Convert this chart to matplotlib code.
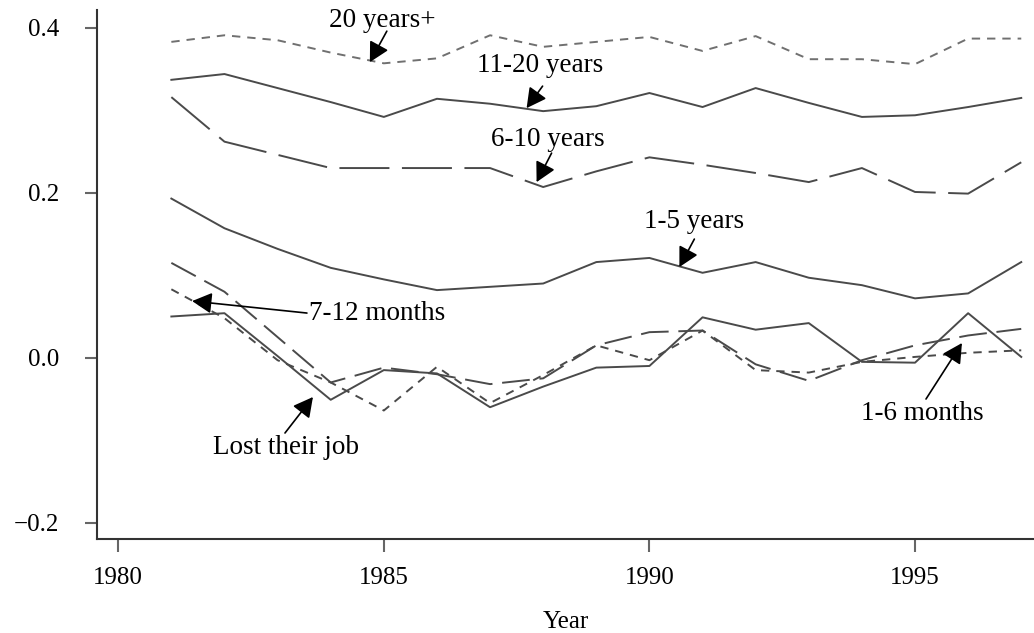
import matplotlib
matplotlib.use("Agg")
from matplotlib import pyplot as plt

# data
years = list(range(1981, 1998))

yrs_20plus = [0.383, 0.391, 0.385, 0.370, 0.357, 0.363, 0.391, 0.377, 0.383,
              0.389, 0.372, 0.390, 0.362, 0.362, 0.356, 0.387, 0.387]
yrs_11_20 = [0.337, 0.344, 0.327, 0.310, 0.292, 0.314, 0.308, 0.299, 0.305,
             0.321, 0.304, 0.327, 0.309, 0.292, 0.294, 0.304, 0.315]
yrs_6_10 = [0.316, 0.262, 0.246, 0.230, 0.230, 0.230, 0.230, 0.207, 0.226,
            0.243, 0.234, 0.224, 0.213, 0.230, 0.201, 0.199, 0.237]
yrs_1_5 = [0.193, 0.157, 0.132, 0.109, 0.095, 0.082, 0.086, 0.090, 0.116,
           0.121, 0.103, 0.116, 0.097, 0.088, 0.072, 0.078, 0.116]
mon_7_12 = [0.083, 0.048, -0.003, -0.030, -0.064, -0.011, -0.055, -0.021, 0.015,
            -0.003, 0.033, -0.015, -0.018, -0.005, 0.001, 0.006, 0.009]
mon_1_6 = [0.115, 0.080, 0.025, -0.030, -0.012, -0.020, -0.032, -0.025, 0.015,
           0.031, 0.033, -0.008, -0.028, -0.003, 0.015, 0.027, 0.035]
lost_job = [0.050, 0.054, 0.002, -0.051, -0.015, -0.019, -0.060, -0.035, -0.012,
            -0.010, 0.049, 0.034, 0.042, -0.005, -0.006, 0.054, 0.001]

plt.rcParams['font.family'] = ['Liberation Serif', 'DejaVu Serif']
plt.rcParams['lines.scale_dashes'] = False

fig = plt.figure(figsize=(10.34, 6.33), dpi=100)
ax = fig.add_axes([0.0938, 0.1485, 0.9062, 0.8355])

line_col = '#4a4a4a'
ax.plot(years, yrs_20plus, color='#707070', lw=1.4, dashes=(6, 5))
ax.plot(years, yrs_11_20, color=line_col, lw=1.4)
ax.plot(years, yrs_6_10, color=line_col, lw=1.4, dashes=(36, 9))
ax.plot(years, yrs_1_5, color=line_col, lw=1.4)
ax.plot(years, mon_7_12, color=line_col, lw=1.4, dashes=(6, 5))
ax.plot(years, mon_1_6, color=line_col, lw=1.4, dashes=(20, 7))
ax.plot(years, lost_job, color=line_col, lw=1.4)

ax.set_xlim(1979.6, 1997.24)
ax.set_ylim(-0.2198, 0.4215)
ax.set_xticks([1980, 1985, 1990, 1995])
ax.set_yticks([-0.2, 0.0, 0.2, 0.4])
ax.set_yticklabels(['\u22120.2', '0.0', '0.2', '0.4'])
ax.set_xlabel('Year', fontsize=18, labelpad=16)

for side in ['top', 'right']:
    ax.spines[side].set_visible(False)
for side in ['left', 'bottom']:
    ax.spines[side].set_color('#333333')
    ax.spines[side].set_linewidth(1.5)
ax.tick_params(axis='both', length=9, width=1.5, color='#666666', labelsize=18)
ax.tick_params(axis='x', pad=11)
ax.tick_params(axis='y', pad=18)

# labels with arrows
def px(x):
    return 1980 + (x - 118) / 53.2

def py(y):
    return (357.7 - y) / 825

notes = [
    ('20 years+', (382, 20), (387, 31), (370, 62)),
    ('11-20 years', (541, 65), (543, 86), (527, 108)),
    ('6-10 years', (548, 139), (552, 153), (537, 182)),
    ('1-5 years', (695, 221), (695, 239), (680, 267)),
    ('7-12 months', (377, 313), (307, 313), (192, 301)),
    ('Lost their job', (286, 448), (285, 433), (313, 397)),
    ('1-6 months', (923, 413), (927, 399), (963, 343)),
]
for label, txt, tail, tip in notes:
    ax.text(px(txt[0]), py(txt[1]), label, fontsize=19.5, ha='center', va='center')
    ax.annotate('', xy=(px(tip[0]), py(tip[1])), xytext=(px(tail[0]), py(tail[1])),
                arrowprops=dict(arrowstyle='-|>,head_length=0.6,head_width=0.32',
                                color='black', lw=1.2, mutation_scale=20,
                                shrinkA=0, shrinkB=0))

plt.savefig('out.png', dpi=100, facecolor='white')
